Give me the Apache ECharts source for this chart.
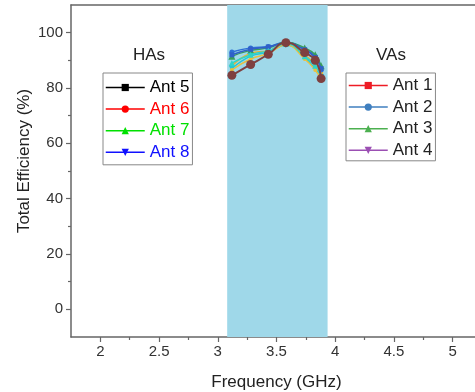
<!DOCTYPE html>
<html>
<head>
<meta charset="utf-8">
<script src="https://cdn.jsdelivr.net/npm/echarts@6/dist/echarts.min.js"></script>
<style>
  html, body { margin: 0; padding: 0; background: #fff; }
  #chart { width: 475px; height: 392px; }
</style>
</head>
<body>
<div id="chart"></div>
<script>
// Frequency points of the sampled markers (GHz)
const freq = [3.12, 3.28, 3.43, 3.58, 3.74, 3.83, 3.88];

// Total efficiency per antenna (%)
const ant1 = [88.0, 92.5, 93.5, 96.0, 92.0, 88.5, 85.5];
const ant2 = [93.0, 94.5, 95.0, 96.5, 94.0, 91.5, 86.5];
const ant3 = [91.5, 93.6, 94.5, 96.5, 94.5, 92.0, 88.0];
const ant4 = [87.0, 91.5, 93.0, 95.5, 91.0, 87.0, 84.0];
const ant5 = [92.0, 94.0, 94.8, 96.3, 93.8, 91.0, 87.0];
const ant6 = [86.5, 90.5, 92.5, 95.5, 90.5, 86.5, 83.0];
const ant7 = [89.0, 92.0, 93.5, 96.0, 91.5, 88.0, 84.5];
const ant8 = [84.6, 88.5, 92.2, 96.4, 92.8, 90.0, 83.4];

// Operating band (GHz)
const band = [3.08, 3.935];

// Axis ticks
const xMajor = [2, 2.5, 3, 3.5, 4, 4.5, 5];
const xMinor = [2.25, 2.75, 3.25, 3.75, 4.25, 4.75];
const yMajor = [0, 20, 40, 60, 80, 100];
const yMinor = [10, 30, 50, 70, 90];

const names = ['Ant 1', 'Ant 2', 'Ant 3', 'Ant 4', 'Ant 5', 'Ant 6', 'Ant 7', 'Ant 8'];
const values = [ant1, ant2, ant3, ant4, ant5, ant6, ant7, ant8];

// Legend entry colours
const legendColors = ['#ee1c25', '#3f7fbf', '#4cb050', '#9b4fb3', '#000000', '#ff0000', '#00e000', '#1010ff'];
// Trace colours inside the band
const plotColors = ['#f0b030', '#2f6fd6', '#3a9e5a', '#26c6d6', '#3060c8', '#e8c040', '#2fd4c8', '#7e4040'];
const symbols = ['rect', 'circle', 'triangle', 'triangle', 'rect', 'circle', 'triangle', 'triangle'];
const rotations = [0, 0, 0, 180, 0, 0, 0, 180];
const plotSizes = [4, 5, 7, 6, 5, 4, 6, 9];

const FONT = 'Liberation Sans, Arial, sans-serif';
const axisColor = '#666';

const series = names.map((n, i) => ({
  name: n,
  type: 'line',
  xAxisIndex: 0,
  yAxisIndex: 0,
  smooth: true,
  symbol: symbols[i],
  symbolRotate: rotations[i],
  symbolSize: plotSizes[i],
  z: 3 + i,
  lineStyle: { color: plotColors[i], width: i === 7 ? 2 : 1.5 },
  itemStyle: { color: plotColors[i] },
  // the brown trace is marked with round dots
  data: freq.map((f, k) => (i === 7
    ? { value: [f, values[i][k]], symbol: 'circle', symbolRotate: 0 }
    : [f, values[i][k]]))
}));

// Shaded band under the traces
series.unshift({
  name: 'band',
  type: 'line',
  xAxisIndex: 0,
  yAxisIndex: 0,
  data: [],
  z: 1,
  silent: true,
  markArea: {
    silent: true,
    itemStyle: { color: '#9fd8e9' },
    data: [[{ xAxis: band[0] }, { xAxis: band[1] }]]
  }
});

function legendItem(i, textColor) {
  return {
    name: names[i],
    itemStyle: { color: legendColors[i] },
    lineStyle: { color: legendColors[i], width: 1.5 },
    textStyle: { color: textColor || legendColors[i] }
  };
}

const legendBase = {
  orient: 'vertical',
  top: 73,
  itemWidth: 39,
  itemHeight: 9,
  itemGap: 4.6,
  padding: [6, 3, 4, 2],
  borderColor: '#888',
  borderWidth: 1,
  selectedMode: false,
  textStyle: { fontSize: 17, fontFamily: FONT }
};

const chart = echarts.init(document.getElementById('chart'), null, { renderer: 'canvas' });
chart.setOption({
  animation: false,
  backgroundColor: '#fff',
  textStyle: { fontFamily: FONT },
  grid: { left: 71, top: 5, width: 411, height: 332, containLabel: false, outerBoundsMode: 'none' },
  legend: [
    Object.assign({}, legendBase, {
      left: 103,
      data: [legendItem(4), legendItem(5), legendItem(6), legendItem(7)]
    }),
    Object.assign({}, legendBase, {
      left: 346,
      padding: [4, 3, 2, 2],
      data: [legendItem(0, '#222'), legendItem(1, '#222'), legendItem(2, '#222'), legendItem(3, '#222')]
    })
  ],
  graphic: [
    { type: 'text', left: 133, top: 47, style: { text: 'HAs', font: '17px ' + FONT, fill: '#222' } },
    { type: 'text', left: 376, top: 47, style: { text: 'VAs', font: '17px ' + FONT, fill: '#222' } },
    {
      type: 'text', x: 24, y: 161, rotation: Math.PI / 2,
      style: { text: 'Total Efficiency (%)', font: '17px ' + FONT, fill: '#222', align: 'center', verticalAlign: 'middle' }
    }
  ],
  xAxis: [
    {
      type: 'value', min: 1.75, max: 5.25, position: 'bottom',
      name: 'Frequency (GHz)', nameLocation: 'middle', nameGap: 37,
      nameTextStyle: { fontSize: 17, color: '#222', fontFamily: FONT },
      axisLine: { show: true, onZero: false, lineStyle: { color: axisColor, width: 1.5 } },
      axisTick: { show: true, customValues: xMajor, length: 5, lineStyle: { color: axisColor, width: 1.2 } },
      axisLabel: { customValues: xMajor, fontSize: 15, color: '#333', margin: 7, fontFamily: FONT },
      splitLine: { show: false }
    },
    {
      type: 'value', min: 1.75, max: 5.25, position: 'bottom',
      axisLine: { show: false, onZero: false },
      axisTick: { show: true, customValues: xMinor, length: 3, lineStyle: { color: axisColor, width: 1.2 } },
      axisLabel: { show: false },
      splitLine: { show: false }
    },
    {
      type: 'value', min: 1.75, max: 5.25, position: 'top',
      axisLine: { show: true, onZero: false, lineStyle: { color: axisColor, width: 1.5 } },
      axisTick: { show: false },
      axisLabel: { show: false },
      splitLine: { show: false }
    }
  ],
  yAxis: [
    {
      type: 'value', min: -10, max: 110, position: 'left',
      axisLine: { show: true, onZero: false, lineStyle: { color: axisColor, width: 1.5 } },
      axisTick: { show: true, customValues: yMajor, length: 5, lineStyle: { color: axisColor, width: 1.2 } },
      axisLabel: { customValues: yMajor, fontSize: 15, color: '#333', margin: 8, fontFamily: FONT },
      splitLine: { show: false }
    },
    {
      type: 'value', min: -10, max: 110, position: 'left',
      axisLine: { show: false, onZero: false },
      axisTick: { show: true, customValues: yMinor, length: 3, lineStyle: { color: axisColor, width: 1.2 } },
      axisLabel: { show: false },
      splitLine: { show: false }
    }
  ],
  series: series
});
</script>
</body>
</html>
